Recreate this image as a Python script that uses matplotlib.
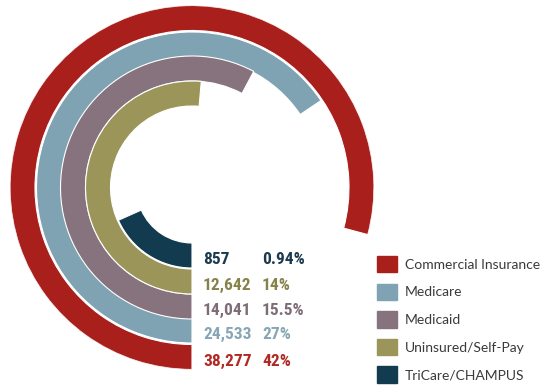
import numpy as np
import matplotlib.pyplot as plt
from matplotlib.patches import Patch

# payer mix, outer ring first
payers = ['Commercial Insurance', 'Medicare', 'Medicaid', 'Uninsured/Self-Pay', 'TriCare/CHAMPUS']
counts = ['38,277', '24,533', '14,041', '12,642', '857']
shares = ['42%', '27%', '15.5%', '14%', '0.94%']
sweep_deg = [285, 236, 208, 185, 66]   # arc length as drawn (not proportional)

ring_col = ['#a91f1b', '#7fa3b2', '#86737d', '#9c9559', '#133b4f']
text_col = ['#b02a24', '#86a6b6', '#7d6d77', '#86834a', '#1b3a4e']
num_font = ['Roboto Condensed', 'Liberation Sans Narrow', 'Roboto']

fig = plt.figure(figsize=(5.49, 3.86), dpi=100)
ax = fig.add_axes([10/549, 1 - 369.5/386, 364/549, 364/386], projection='polar')
ax.set_theta_zero_location('S')
ax.set_theta_direction(-1)
ax.set_ylim(0, 182)
ax.axis('off')

radii = [169.5, 143, 119, 94, 68]
for i in range(len(payers)):
    ax.barh(radii[i], np.deg2rad(sweep_deg[i]), left=0, height=25,
            color=ring_col[i], edgecolor='white', linewidth=0.8)
    for txt, dx in [(counts[i], 11), (shares[i], 70)]:
        ax.annotate(txt, xy=(0, radii[i]), xytext=(dx, -4), textcoords='offset pixels',
                    ha='left', va='center', fontsize=12.5, fontweight='bold',
                    family=num_font, color=text_col[i])

handles = [Patch(facecolor=c, edgecolor=c) for c in ring_col]
fig.legend(handles, payers, loc='upper left', bbox_to_anchor=(377/549, 1 - 256/386),
           frameon=False, prop={'family': 'Lato', 'size': 10},
           borderpad=0, borderaxespad=0,
           handlelength=1.45, handleheight=1.45, labelspacing=0.8, handletextpad=0.55,
           labelcolor='#3a3a3a')

fig.savefig('out.png', dpi=100)
